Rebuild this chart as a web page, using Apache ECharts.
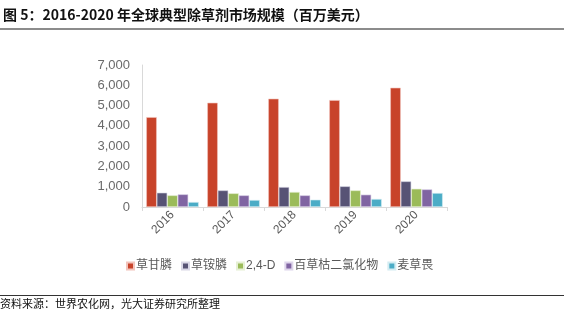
<!DOCTYPE html>
<html><head><meta charset="utf-8">
<script src="https://cdn.jsdelivr.net/npm/echarts@6/dist/echarts.min.js"></script>
<style>html,body{margin:0;padding:0;background:#fff}#c{width:564px;height:329px}</style>
</head><body><div id="c"></div>
<script>
const categories = ['2016','2017','2018','2019','2020'];
const seriesNames = ['草甘膦','草铵膦','2,4-D','百草枯二氯化物','麦草畏'];
const glyphosate = [4430, 5140, 5340, 5270, 5880];
const glufosinate = [705, 820, 985, 1020, 1265];
const d24 = [575, 675, 740, 820, 900];
const paraquat = [625, 575, 575, 610, 870];
const dicamba = [245, 345, 360, 395, 690];
const yTicks = [0, 1000, 2000, 3000, 4000, 5000, 6000, 7000];
const colors = ['#C8432A','#575375','#9BBB59','#8064A2','#4BACC6'];
const borderColors = ['#F2C4BC','#D9D7E6','#E6F0D4','#DED5EB','#D3ECF2'];
const values = [glyphosate, glufosinate, d24, paraquat, dicamba];
const font = '"Liberation Sans", "Noto Sans CJK SC", sans-serif';
const chart = echarts.init(document.getElementById('c'));
chart.setOption({
  animation: false,
  title: {text: '图 5：2016-2020 年全球典型除草剂市场规模（百万美元）', left: -2, top: 3,
    textStyle: {fontFamily: '"Noto Sans CJK SC", sans-serif', fontWeight: 'bold', fontSize: 14, color: '#111'}},
  graphic: [
    {type: 'rect', shape: {x: 0, y: 28, width: 564, height: 2}, style: {fill: '#8c8c8c'}},
    {type: 'rect', shape: {x: 0, y: 295, width: 564, height: 1}, style: {fill: '#333'}},
    {type: 'text', left: 0, top: 298, style: {text: '资料来源：世界农化网，光大证券研究所整理', fontSize: 11,
      fontFamily: '"Noto Sans CJK SC", sans-serif', fill: '#111'}}
  ],
  legend: {data: seriesNames, left: 121, top: 255, itemWidth: 7, itemHeight: 7, itemGap: 9,
    icon: 'rect', textStyle: {fontSize: 12, color: '#595959', fontFamily: font, padding: [0,0,0,-3]}},
  grid: {left: 142, right: 117, top: 65, bottom: 122},
  xAxis: {type: 'category', data: categories,
    axisLine: {lineStyle: {color: '#d9d9d9'}},
    axisTick: {show: true, lineStyle: {color: '#d9d9d9'}, length: 4},
    axisLabel: {rotate: 45, fontSize: 12, color: '#595959', fontFamily: font, margin: 6}},
  yAxis: {type: 'value', min: 0, max: 7000, interval: 1000,
    axisLine: {show: true, lineStyle: {color: '#d9d9d9'}},
    axisTick: {show: false}, splitLine: {show: false},
    axisLabel: {fontSize: 13, color: '#6a6a6a', fontFamily: font, margin: 12,
      formatter: v => yTicks.includes(v) ? v.toLocaleString('en-US') : ''}},
  series: seriesNames.map((n, i) => ({
    name: n, type: 'bar', data: values[i], barGap: '0%', barCategoryGap: '14%',
    itemStyle: {color: colors[i], borderColor: borderColors[i], borderWidth: 0.6}
  }))
});
</script></body></html>
